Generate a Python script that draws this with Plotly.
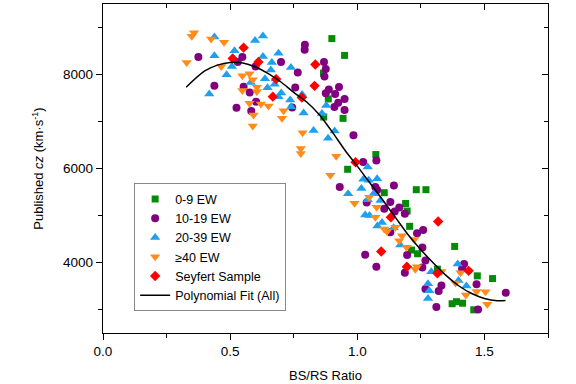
import plotly.graph_objects as go

# ---- data ----
green_x = [0.900, 0.950, 0.867, 0.886, 0.868, 0.944, 1.073, 0.962, 1.106, 1.232, 1.270, 1.190,
           1.196, 1.206, 1.213, 1.237, 1.383, 1.315, 1.472, 1.532, 1.373, 1.390, 1.414, 1.458]
green_y = [8764, 8406, 8030, 7480, 7095, 7067, 6297, 5983, 5485, 5549, 5549, 5256,
           5095, 4770, 4265, 4186, 4342, 3859, 3716, 3658, 3123, 3166, 3134, 2993]

purple_x = [0.375, 0.438, 0.525, 0.548, 0.530, 0.553, 0.577, 0.602, 0.600, 0.700, 0.766, 0.756,
            0.744, 0.794, 0.793, 0.869, 0.876, 0.871, 0.888, 0.876, 0.928, 0.913, 0.950, 0.925,
            0.910, 0.950, 0.985, 1.023, 1.075, 0.931, 1.071, 1.078, 1.144, 1.037, 1.130, 1.106,
            1.165, 1.147, 1.187, 1.130, 1.235, 1.259, 1.256, 1.196, 1.031, 1.075, 1.268, 1.187,
            1.256, 1.420, 1.412, 1.331, 1.320, 1.268, 1.469, 1.311, 1.475, 1.584, 0.583]
purple_y = [8372, 7758, 7294, 8372, 8265, 7737, 7615, 7422, 8171, 8265, 8043, 7726,
            7298, 8635, 8528, 8265, 8116, 7957, 7683, 7602, 7733, 7583, 7480, 7399,
            7309, 7245, 6710, 6139, 6169, 5604, 5609, 5544, 5636, 5277, 5288, 5142,
            5170, 5085, 5035, 4642, 4625, 4693, 4321, 4158, 4165, 3908, 4043, 3780,
            3893, 3966, 3865, 3512, 3395, 3437, 3538, 3052, 2999, 3358, 7224]

blue_x = [0.438, 0.438, 0.418, 0.486, 0.517, 0.507, 0.598, 0.629, 0.629, 0.664,
          0.690, 0.660, 0.581, 0.637, 0.679, 0.647, 0.675, 0.701, 0.690, 0.736,
          0.740, 0.789, 0.783, 0.739, 0.828, 0.885, 0.911, 0.861, 0.878, 0.964,
          1.041, 1.024, 1.045, 1.078, 1.016, 1.064, 1.041, 1.091, 1.031, 1.048,
          1.097, 1.079, 1.143, 1.169, 1.291, 1.395, 1.398, 1.429, 1.278, 1.283, 1.278]
blue_y = [8796, 8400, 7583, 7994, 8507, 8171, 8721, 8817, 8385, 8257,
          8453, 8094, 7829, 7912, 7902, 7716, 7795, 7609, 7529, 7459,
          7316, 7181, 7576, 8150, 6806, 6646, 6796, 7170, 7341, 5463,
          6032, 5769, 5748, 5784, 5577, 5463, 5335, 5320, 5010, 5000,
          4849, 4774, 4742, 4372, 3801, 3966, 3615, 3502, 3549, 3401, 3234]

orange_x = [0.329, 0.349, 0.358, 0.425, 0.476, 0.465, 0.548, 0.576, 0.589, 0.548,
            0.605, 0.605, 0.576, 0.621, 0.651, 0.592, 0.710, 0.704, 0.589, 0.785,
            0.778, 0.778, 0.894, 0.917, 0.989, 1.047, 1.076, 1.071, 1.106, 1.117,
            1.150, 1.165, 1.176, 1.194, 1.224, 1.228, 1.235, 1.331, 1.386, 1.406,
            1.427, 1.469, 1.504, 1.511]
orange_y = [8257, 8813, 8886, 8757, 8684, 8171, 7972, 8015, 7887, 7658,
            7730, 7636, 7388, 7373, 7330, 7138, 7230, 7067, 6903, 6759,
            6426, 6319, 5855, 6261, 5262, 5390, 5176, 4963, 4714, 4657,
            4749, 4464, 4571, 4325, 4490, 3859, 3908, 3808, 3566, 3780,
            3309, 3384, 3380, 3110]

red_x = [0.553, 0.510, 0.611, 0.681, 0.668, 0.782, 0.835, 0.832, 0.993, 1.132,
         1.318, 1.094, 1.195, 1.315, 1.438]
red_y = [8571, 8342, 8265, 7902, 7529, 7512, 8214, 7758, 6133, 4963,
         4871, 4235, 3908, 3769, 3822]

fit_x = [0.327, 0.40, 0.45, 0.50, 0.55, 0.60, 0.65, 0.70, 0.75, 0.80, 0.85, 0.90, 0.95,
         1.00, 1.05, 1.10, 1.15, 1.20, 1.25, 1.30, 1.35, 1.40, 1.45, 1.50, 1.55, 1.583]
fit_y = [7730, 8075, 8200, 8255, 8245, 8160, 8020, 7840, 7620, 7420, 7150, 6790, 6400,
         6050, 5690, 5330, 4960, 4590, 4270, 3985, 3720, 3500, 3340, 3235, 3186, 3191]

series_names = ["0-9 EW", "10-19 EW", "20-39 EW", "≥40 EW", "Seyfert Sample"]
fit_name = "Polynomial Fit (All)"
x_title = "BS/RS Ratio"
y_title = "Published <i>cz</i> (km·s<sup>-1</sup>)"

FONT = "Arial, 'Liberation Sans', Helvetica, sans-serif"

fig = go.Figure()
styles = [
    (green_x, green_y, "square", 7, "#078a07"),
    (purple_x, purple_y, "circle", 8, "#800080"),
    (blue_x, blue_y, "triangle-up", 9, "#1ea0ef"),
    (orange_x, orange_y, "triangle-down", 9, "#ff8c1a"),
    (red_x, red_y, "diamond", 8, "#ff0000"),
]
for name, (xs, ys, sym, size, col) in zip(series_names, styles):
    fig.add_trace(go.Scatter(x=xs, y=ys, mode="markers", name=name,
                             marker=dict(symbol=sym, size=size, color=col, line=dict(width=0))))
fig.add_trace(go.Scatter(x=fit_x, y=fit_y, mode="lines", name=fit_name,
                         line=dict(color="black", width=1.5, shape="spline", smoothing=0.8)))
# helper trace so the mirrored (inward) ticks on top/right axes are drawn
fig.add_trace(go.Scatter(x=[None], y=[None], xaxis="x2", yaxis="y2", showlegend=False,
                         hoverinfo="skip"))

XR = [0, 1.75]
YR = [2500, 9500]
fig.update_layout(
    width=576, height=384,
    margin=dict(l=103, r=28, t=4, b=51),
    paper_bgcolor="white", plot_bgcolor="white",
    font=dict(family=FONT, color="black", size=13),
    showlegend=True,
    legend=dict(x=0.07, y=0.455, xanchor="left", yanchor="top",
                bordercolor="#888888", borderwidth=1, bgcolor="white",
                font=dict(size=12.5, family=FONT), tracegroupgap=0, itemwidth=30),
    xaxis=dict(range=XR, showline=True, mirror=True, linecolor="black", linewidth=1.3,
               ticks="outside", ticklen=6, tickwidth=1.3, tickcolor="black",
               tick0=0, dtick=0.5, tickformat=".1f", showgrid=False, zeroline=False,
               minor=dict(ticks="outside", ticklen=4, dtick=0.25, tickwidth=1.3, tickcolor="black"),
               tickfont=dict(size=13.5),
               title=dict(text=x_title, font=dict(size=13), standoff=12)),
    yaxis=dict(range=YR, showline=True, mirror=True, linecolor="black", linewidth=1.3,
               ticks="outside", ticklen=6, tickwidth=1.3, tickcolor="black",
               tick0=0, dtick=2000, showgrid=False, zeroline=False,
               minor=dict(ticks="outside", ticklen=4, dtick=1000, tickwidth=1.3, tickcolor="black"),
               tickfont=dict(size=13.5),
               title=dict(text=y_title, font=dict(size=13), standoff=16)),
    xaxis2=dict(range=XR, overlaying="x", side="top", anchor="y", showline=False,
                ticks="inside", ticklen=6, tickwidth=1.3, tickcolor="black",
                tick0=0, dtick=0.5, showticklabels=False, showgrid=False, zeroline=False,
                minor=dict(ticks="inside", ticklen=4, dtick=0.25, tickwidth=1.3, tickcolor="black")),
    yaxis2=dict(range=YR, overlaying="y", side="right", anchor="x", showline=False,
                ticks="inside", ticklen=6, tickwidth=1.3, tickcolor="black",
                tick0=0, dtick=2000, showticklabels=False, showgrid=False, zeroline=False,
                minor=dict(ticks="inside", ticklen=4, dtick=1000, tickwidth=1.3, tickcolor="black")),
)

fig.write_html("out.html", config={"displayModeBar": False},
               post_script="document.body.style.margin='0';")
